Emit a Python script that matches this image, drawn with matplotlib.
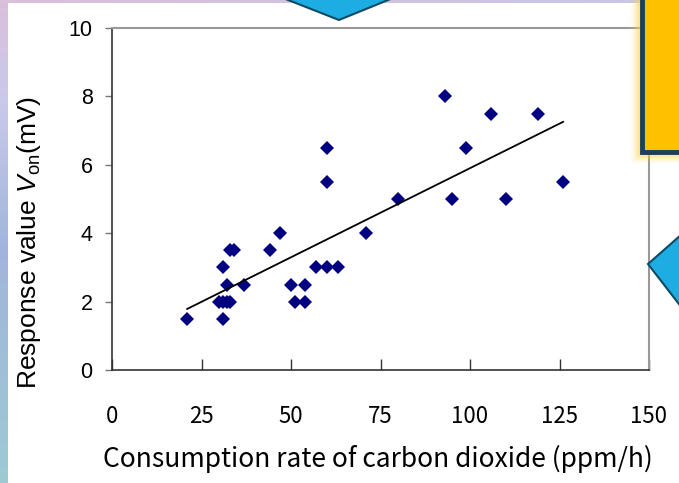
import numpy as np
import matplotlib
matplotlib.use("Agg")
import matplotlib.pyplot as plt
from matplotlib.patches import Polygon, Rectangle

# data
co2_rate = [21, 30, 31, 31, 32, 33, 31, 32, 33, 34, 37, 44, 47, 50, 51, 54, 54,
            57, 60, 63, 60, 60, 71, 80, 93, 95, 99, 106, 110, 119, 126]
response = [1.5, 2, 2, 1.5, 2, 2, 3, 2.5, 3.5, 3.5, 2.5, 3.5, 4, 2.5, 2, 2.5, 2,
            3, 3, 3, 6.5, 5.5, 4, 5, 8, 5, 6.5, 7.5, 5, 7.5, 5.5]
x_ticks = [0, 25, 50, 75, 100, 125, 150]
y_ticks = [0, 2, 4, 6, 8, 10]

W, H = 679, 483
plt.rcParams['mathtext.fontset'] = 'custom'
plt.rcParams['mathtext.rm'] = 'Liberation Sans'
plt.rcParams['mathtext.it'] = 'Liberation Sans:italic'

fig = plt.figure(figsize=(W / 100, H / 100), dpi=100)


def px(x, y):
    return (x / W, 1 - y / H)


# slide background: gradient strips on left and top, white panel
img = np.ones((H, W, 3))
stops_y = np.array([0, 100, 250, H])
cols_y = np.array([[0.86, 0.75, 0.86], [0.79, 0.79, 0.92],
                   [0.63, 0.71, 0.86], [0.62, 0.79, 0.83]])
top_end = [0.78, 0.78, 0.90]
for c in range(3):
    img[:, :8, c] = np.interp(np.arange(H), stops_y, cols_y[:, c])[:, None]
    img[:3, :, c] = np.interp(np.arange(W), [0, W], [cols_y[0, c], top_end[c]])[None, :]
bg = fig.add_axes([0, 0, 1, 1], zorder=-5)
bg.imshow(img, aspect='auto', extent=[0, 1, 0, 1])
bg.axis('off')

ax = fig.add_axes([112 / W, 1 - 370 / H, (649 - 112) / W, (370 - 28) / H])
ax.plot(co2_rate, response, linestyle='none', marker='D', ms=7,
        color='#000080', markeredgewidth=0)

# linear trend line
k, b = np.polyfit(co2_rate, response, 1)
xs = np.array([min(co2_rate), max(co2_rate)])
ax.plot(xs, k * xs + b, color='black', lw=1.3)

ax.set_xlim(0, 150)
ax.set_ylim(0, 10)
ax.set_xticks(x_ticks)
ax.set_yticks(y_ticks)
ax.tick_params(axis='x', direction='in', length=8, width=1, pad=25,
               labelsize=16, color='#333333')
ax.tick_params(axis='y', direction='out', length=5, width=1, pad=9,
               labelsize=15.5, color='#777777')
for lab in ax.get_xticklabels():
    lab.set_fontfamily('Noto Sans CJK JP')
for lab in ax.get_yticklabels():
    lab.set_fontfamily('Liberation Sans')
for s in ['top', 'right']:
    ax.spines[s].set_color('#999999')
    ax.spines[s].set_linewidth(1.5)
for s in ['left', 'bottom']:
    ax.spines[s].set_color('#333333')
    ax.spines[s].set_linewidth(1.2)

fig.text(*px(378, 459), 'Consumption rate of carbon dioxide (ppm/h)',
         ha='center', va='center', fontsize=19, family='Noto Sans CJK JP')
fig.text(*px(29, 243), r'Response value $V_{\mathrm{on}}$(mV)', rotation=90,
         ha='center', va='center', fontsize=19, family='Liberation Sans')

# slide decorations
fig.add_artist(Polygon([px(283, -2), px(339, 20), px(393, -2)], closed=True,
                       facecolor='#1EADE3', edgecolor='#0E4A63', lw=1.5,
                       transform=fig.transFigure, zorder=10))
for i, a in enumerate([0.08, 0.12, 0.18, 0.25, 0.35]):
    g = 10 - 2 * i
    fig.add_artist(Rectangle(px(641 - g, 153 + g), (40 + g) / W, (160 + g) / H,
                             facecolor='#FFD54A', edgecolor='none', alpha=a,
                             transform=fig.transFigure, zorder=9))
fig.add_artist(Rectangle(px(642, 152), 40 / W, 158 / H, facecolor='#FFC000',
                         edgecolor='#1B3F5C', lw=3.5,
                         transform=fig.transFigure, zorder=10))
fig.add_artist(Polygon([px(648, 264), px(682, 234), px(682, 308)], closed=True,
                       facecolor='#1EADE3', edgecolor='#0E4A63', lw=1.5,
                       transform=fig.transFigure, zorder=10))

plt.savefig('out.png', dpi=100)
